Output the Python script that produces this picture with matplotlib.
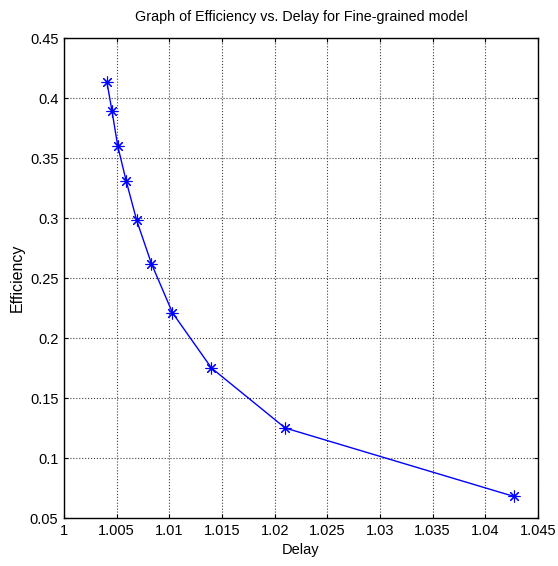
import matplotlib
matplotlib.use("Agg")
import matplotlib.pyplot as plt

plt.rcParams['font.family'] = ['Liberation Sans', 'DejaVu Sans']

# delay vs efficiency for the fine-grained model
delay = [1.00408, 1.00456, 1.0051, 1.0059, 1.0069, 1.0083, 1.0103, 1.0140, 1.0210, 1.0427]
efficiency = [0.413, 0.389, 0.360, 0.331, 0.298, 0.262, 0.221, 0.175, 0.125, 0.068]

xticks = [1, 1.005, 1.01, 1.015, 1.02, 1.025, 1.03, 1.035, 1.04, 1.045]
xtick_labels = ['1', '1.005', '1.01', '1.015', '1.02', '1.025', '1.03', '1.035', '1.04', '1.045']
yticks = [0.05, 0.1, 0.15, 0.2, 0.25, 0.3, 0.35, 0.4, 0.45]
ytick_labels = ['0.05', '0.1', '0.15', '0.2', '0.25', '0.3', '0.35', '0.4', '0.45']

fig = plt.figure(figsize=(5.58, 5.66), dpi=100)
ax = fig.add_axes([64/558, 1 - 518/566, 474/558, 480/566])

# asterisk marker: 8 spokes, like a "+" over an "x"
ax.plot(delay, efficiency, color='blue', linewidth=1, marker=(8, 2, 0), markersize=8.5,
        markeredgewidth=0.8, markeredgecolor='blue')

ax.set_xlim(1, 1.045)
ax.set_ylim(0.05, 0.45)
ax.set_xticks(xticks)
ax.set_xticklabels(xtick_labels)
ax.set_yticks(yticks)
ax.set_yticklabels(ytick_labels)
ax.grid(True, color='#404040', linestyle=':', linewidth=0.8)
ax.tick_params(direction='in', top=True, right=True, length=3, labelsize=10.5, pad=4)
for s in ax.spines.values():
    s.set_linewidth(1)

ax.set_title('Graph of Efficiency vs. Delay for Fine-grained model', fontsize=10.3, pad=12)
ax.set_xlabel('Delay', fontsize=10.5, labelpad=4)
ax.set_ylabel('Efficiency', fontsize=11.5)
ax.yaxis.set_label_coords(-0.082, 0.5)

fig.savefig('out.png', dpi=100)
